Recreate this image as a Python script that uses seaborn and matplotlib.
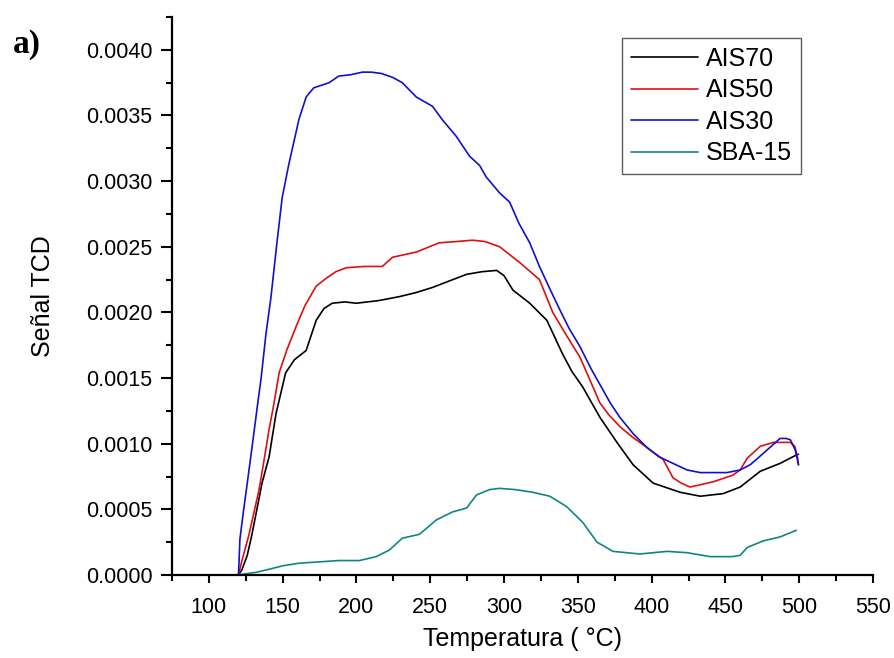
import pandas as pd
import matplotlib
matplotlib.use('Agg')
import matplotlib.pyplot as plt
import seaborn as sns
from matplotlib.ticker import MultipleLocator, FormatStrFormatter

# valores (temperatura en C, senal TCD)
t_ais70 = [120, 122.4, 126, 129, 132, 136, 140.8, 145.5, 152, 158, 165.9, 172.7, 178, 183.6,
           192, 199.9, 215, 229, 240, 251.5, 263, 274.6, 285, 295, 300, 306, 317.4, 329,
           339.8, 346, 353.4, 365, 376.5, 387.4, 401, 419.3, 433, 448.5, 460, 473.6, 487,
           497.4, 499.5]
s_ais70 = [0, 0.00004, 0.00015, 0.0003, 0.00047, 0.0007, 0.0009, 0.00123, 0.00154, 0.00164,
           0.00171, 0.00194, 0.00203, 0.00207, 0.00208, 0.00207, 0.00209, 0.00212, 0.00215,
           0.00219, 0.00224, 0.00229, 0.00231, 0.00232, 0.00228, 0.00217, 0.00207, 0.00194,
           0.00168, 0.00155, 0.00143, 0.0012, 0.00101, 0.00084, 0.0007, 0.00063, 0.0006,
           0.00062, 0.00067, 0.00079, 0.00085, 0.00091, 0.00092]

t_ais50 = [120, 122.4, 127, 130, 134, 137, 140.8, 144, 147.6, 153, 159, 165, 172.7, 179.5,
           186, 193, 205, 217.5, 224.4, 240.6, 256, 268, 278.6, 287, 297, 310.6, 324, 333,
           342, 351.4, 358, 365, 371, 378.5, 387, 397, 407.8, 414.5, 420, 426, 434, 441.7,
           455, 460, 464.8, 473.6, 482.5, 494, 497, 498.8, 499.5]
s_ais50 = [0, 0.00011, 0.0003, 0.00045, 0.00065, 0.00085, 0.00111, 0.0013, 0.00154, 0.00172,
           0.00189, 0.00205, 0.0022, 0.00226, 0.00231, 0.00234, 0.00235, 0.00235, 0.00242,
           0.00246, 0.00253, 0.00254, 0.00255, 0.00254, 0.0025, 0.00238, 0.00225, 0.002,
           0.00183, 0.00166, 0.00149, 0.00131, 0.00122, 0.00113, 0.00105, 0.00097, 0.00088,
           0.00074, 0.0007, 0.00067, 0.00069, 0.00071, 0.00076, 0.0008, 0.00089, 0.00098,
           0.00101, 0.00101, 0.00098, 0.0009, 0.00084]

t_ais30 = [120, 120.5, 121, 123, 126, 129.2, 133, 135.3, 138.7, 142, 146, 149.6, 154, 159,
           161, 165.9, 168, 171, 181.5, 188, 196, 204, 210, 216.8, 224.5, 231, 240.6, 251.5,
           258, 267.7, 276.6, 283.4, 288, 297, 303.8, 310, 317.4, 324, 331, 337.8, 344,
           351.4, 359, 367, 372, 378.5, 388, 396.9, 405, 414.5, 424, 433, 451, 460, 466.8,
           473, 478, 483, 487, 491, 494, 497.4, 499.5]
s_ais30 = [0, 0.00012, 0.00027, 0.00045, 0.0007, 0.00097, 0.0013, 0.00149, 0.00184, 0.00211,
           0.00252, 0.00287, 0.00312, 0.00337, 0.00347, 0.00364, 0.00367, 0.00371, 0.00375,
           0.0038, 0.00381, 0.00383, 0.00383, 0.00382, 0.00379, 0.00375, 0.00364, 0.00357,
           0.00347, 0.00334, 0.00319, 0.00312, 0.00303, 0.00291, 0.00284, 0.00268, 0.00253,
           0.00235, 0.00218, 0.00202, 0.00188, 0.00174, 0.00157, 0.00141, 0.00131, 0.0012,
           0.00107, 0.00097, 0.0009, 0.00085, 0.0008, 0.00078, 0.00078, 0.0008, 0.00084,
           0.0009, 0.00095, 0.001, 0.00104, 0.00104, 0.00103, 0.00095, 0.00084]

t_sba = [120, 125, 132, 143, 150, 161, 175, 188, 202, 213.4, 222.3, 231, 242.7, 254.2, 265,
         274.6, 281.4, 290, 297, 308, 319.4, 331, 342.5, 353.4, 363, 373.8, 392, 410.5, 424,
         439.7, 455, 460, 464.8, 475.7, 487, 498]
s_sba = [0, 0.00001, 0.00002, 0.00005, 0.00007, 0.00009, 0.0001, 0.00011, 0.00011, 0.00014,
         0.00019, 0.00028, 0.00031, 0.00042, 0.00048, 0.00051, 0.00061, 0.00065, 0.00066,
         0.00065, 0.00063, 0.0006, 0.00052, 0.0004, 0.00025, 0.00018, 0.00016, 0.00018,
         0.00017, 0.00014, 0.00014, 0.00015, 0.00021, 0.00026, 0.00029, 0.00034]

muestras = ['AIS70', 'AIS50', 'AIS30', 'SBA-15']
colores = {'AIS70': '#000000', 'AIS50': '#dd1010', 'AIS30': '#1010d0', 'SBA-15': '#108585'}

df = pd.concat([
    pd.DataFrame({'T': t_ais70, 'senal': s_ais70, 'muestra': 'AIS70'}),
    pd.DataFrame({'T': t_ais50, 'senal': s_ais50, 'muestra': 'AIS50'}),
    pd.DataFrame({'T': t_ais30, 'senal': s_ais30, 'muestra': 'AIS30'}),
    pd.DataFrame({'T': t_sba, 'senal': s_sba, 'muestra': 'SBA-15'}),
])

sns.set_style('ticks')
plt.rcParams['font.family'] = ['Liberation Sans', 'DejaVu Sans']
plt.rcParams['text.color'] = 'black'
plt.rcParams['axes.labelcolor'] = 'black'

fig = plt.figure(figsize=(8.94, 6.58), dpi=100)
ax = fig.add_axes([172 / 894, 1 - 575 / 658, 701 / 894, 558 / 658])

sns.lineplot(data=df, x='T', y='senal', hue='muestra', hue_order=muestras,
             palette=colores, sort=False, estimator=None, linewidth=1.2, ax=ax)

ax.set_xlim(75, 550)
ax.set_ylim(0, 0.00425)
ax.xaxis.set_major_locator(MultipleLocator(50))
ax.xaxis.set_minor_locator(MultipleLocator(25))
ax.yaxis.set_major_locator(MultipleLocator(0.0005))
ax.yaxis.set_minor_locator(MultipleLocator(0.00025))
ax.yaxis.set_major_formatter(FormatStrFormatter('%.4f'))
ax.set_xticks([100, 150, 200, 250, 300, 350, 400, 450, 500, 550])

sns.despine(ax=ax)
for s in ['left', 'bottom']:
    ax.spines[s].set_linewidth(1.6)
    ax.spines[s].set_color('black')
ax.tick_params(axis='both', which='both', direction='out', width=1.5, colors='black',
               labelsize=15.5)
ax.tick_params(axis='y', which='major', length=8, pad=6)
ax.tick_params(axis='y', which='minor', length=4.5)
ax.tick_params(axis='x', which='major', length=6, pad=10)
ax.tick_params(axis='x', which='minor', length=4)

ax.set_xlabel('Temperatura ( °C)', fontsize=18, labelpad=6)
ax.set_ylabel('Señal TCD', fontsize=18, labelpad=22)

leg = ax.legend(loc='upper left', bbox_to_anchor=(0.642, 0.962), fontsize=18,
                frameon=True, fancybox=False, edgecolor='#333333', handlelength=2.7,
                handletextpad=0.3, borderpad=0.35, labelspacing=0.3, borderaxespad=0)
leg.get_frame().set_linewidth(1.0)
for h in leg.get_lines():
    h.set_linewidth(1.2)

fig.text(27 / 894, 1 - 44 / 658, 'a)', fontsize=24, fontweight='bold',
         family=['Liberation Serif', 'DejaVu Serif'], ha='center', va='center')

fig.savefig('out.png', dpi=100)
